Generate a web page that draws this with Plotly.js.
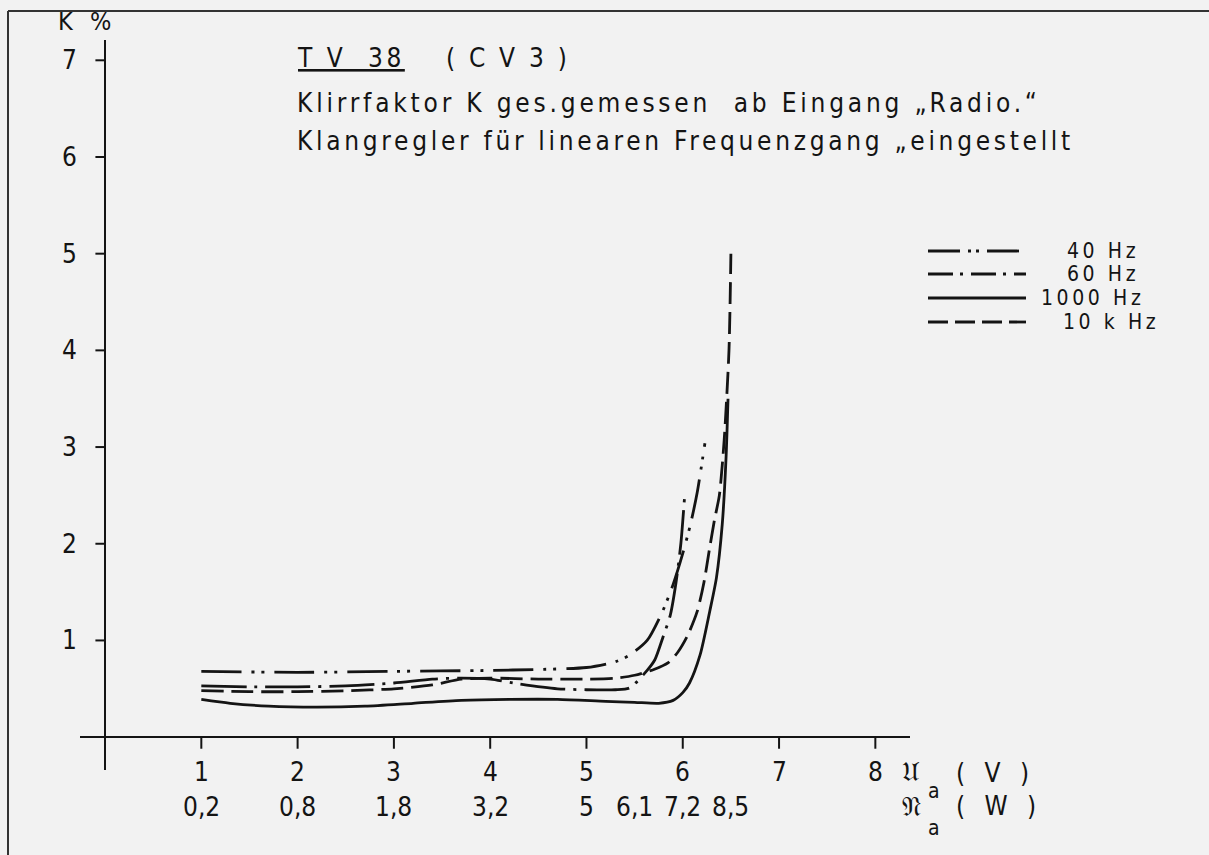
<!DOCTYPE html>
<html>
<head>
<meta charset="utf-8">
<script src="https://cdn.plot.ly/plotly-3.0.1.min.js"></script>
<style>
  html, body { margin: 0; padding: 0; background: #f2f2f2; }
  #chart { width: 1209px; height: 855px; }
</style>
</head>
<body>
<div id="chart"></div>
<script>
// ---- data ----
const xTicks = [1, 2, 3, 4, 5, 6, 7, 8];
const xTickLabels = ["1", "2", "3", "4", "5", "6", "7", "8"];
const wTickPos = [1, 2, 3, 4, 5, 5.5, 6, 6.5];
const wTickLabels = ["0,2", "0,8", "1,8", "3,2", "5", "6,1", "7,2", "8,5"];
const yTicks = [1, 2, 3, 4, 5, 6, 7];
const yTickLabels = ["1", "2", "3", "4", "5", "6", "7"];

const seriesNames = ["40 Hz", "60 Hz", "1000 Hz", "10 k Hz"];

const x40 = [1, 2, 3, 4, 4.5, 5, 5.3, 5.45, 5.63, 5.79, 5.9, 6.0, 6.08, 6.15, 6.23];
const y40 = [0.68, 0.67, 0.68, 0.69, 0.70, 0.72, 0.78, 0.85, 1.0, 1.3, 1.58, 1.9, 2.2, 2.53, 3.04];

const x60 = [1, 1.5, 2, 2.5, 3, 3.4, 3.7, 4, 4.3, 4.7, 5, 5.3, 5.45, 5.63, 5.71, 5.8, 5.87, 5.93, 5.98, 6.02];
const y60 = [0.53, 0.52, 0.52, 0.53, 0.56, 0.60, 0.61, 0.60, 0.55, 0.50, 0.49, 0.49, 0.51, 0.69, 0.8, 1.05, 1.26, 1.6, 2.0, 2.5];

const x1000 = [1, 1.3, 1.7, 2.2, 2.7, 3.2, 3.7, 4.2, 4.7, 5.2, 5.5, 5.75, 5.9, 6.0, 6.07, 6.18, 6.28, 6.35, 6.41, 6.45, 6.47];
const y1000 = [0.39, 0.35, 0.32, 0.31, 0.32, 0.35, 0.38, 0.39, 0.39, 0.37, 0.36, 0.35, 0.38, 0.46, 0.56, 0.85, 1.3, 1.65, 2.2, 2.9, 3.5];

const x10k = [1, 1.5, 2, 2.5, 3, 3.4, 3.7, 4, 4.5, 5, 5.3, 5.5, 5.7, 5.85, 5.95, 6.05, 6.15, 6.22, 6.28, 6.33, 6.38, 6.43, 6.48, 6.5];
const y10k = [0.48, 0.47, 0.47, 0.48, 0.50, 0.54, 0.60, 0.61, 0.60, 0.60, 0.61, 0.64, 0.70, 0.77, 0.88, 1.05, 1.3, 1.6, 1.96, 2.25, 2.5, 3.07, 4.0, 5.0];

// ---- styling ----
const ink = "#141414";
const bg = "#f2f2f2";
const dashes = ["40px,10px,3px,7px,3px,10px", "45px,8px,3px,8px", "solid", "22px,8px"];
const legDashes = ["32px,8px,3px,5px,3px,8px", "25px,7px,3px,8px", "solid", "20px,7px"];
const xs = [x40, x60, x1000, x10k];
const ys = [y40, y60, y1000, y10k];

const traces = seriesNames.map((n, i) => ({
  x: xs[i], y: ys[i], name: n, type: "scatter", mode: "lines",
  line: { color: ink, width: 2.8, dash: dashes[i], shape: "spline", smoothing: 0.7 },
  hoverinfo: "skip", showlegend: false
}));

// plot area in pixels: x 80..910, y 40..770
const L = 80, R = 910, T = 40, B = 770;
const px = p => (p - L) / (R - L);
const py = p => (B - p) / (B - T);

const font = "DejaVu Sans Condensed, DejaVu Sans, sans-serif";
const sp = (t, s) => '<span style="letter-spacing:' + s + 'px">' + t + '</span>';
const shapes = [];
const annotations = [];
const txt = (x, y, t, size, spacing, extra) => Object.assign({
  xref: "paper", yref: "paper", x: px(x), y: py(y), xanchor: "left", yanchor: "middle", align: "left",
  text: sp(t, spacing), showarrow: false, borderpad: 0, font: { family: font, size: size, color: ink }
}, extra || {});

// axis tick marks
xTicks.forEach(v => shapes.push({ type: "line", xref: "x", yref: "y", x0: v, x1: v, y0: 0, y1: -0.12, line: { color: ink, width: 2 } }));
yTicks.forEach(v => shapes.push({ type: "line", xref: "x", yref: "y", x0: 0, x1: -0.1, y0: v, y1: v, line: { color: ink, width: 2 } }));

// tick labels
xTicks.forEach((v, i) => annotations.push({ xref: "x", yref: "y", x: v, y: 0, yanchor: "middle", xanchor: "center", yshift: -35, text: xTickLabels[i], showarrow: false, font: { family: font, size: 26, color: ink } }));
wTickPos.forEach((v, i) => annotations.push({ xref: "x", yref: "y", x: v, y: 0, yanchor: "middle", xanchor: "center", yshift: -70, text: wTickLabels[i], showarrow: false, font: { family: font, size: 26, color: ink } }));
yTicks.forEach((v, i) => annotations.push({ xref: "x", yref: "y", x: 0, y: v, xanchor: "right", yanchor: "middle", xshift: -26, text: yTickLabels[i], showarrow: false, font: { family: font, size: 26, color: ink } }));

// axis titles
annotations.push(txt(57, 22, "K %", 25, 5));
annotations.push(txt(901, 771, "𝔘", 27, 0));
annotations.push(txt(927, 791, "a", 21, 0));
annotations.push(txt(955, 773, "( V )", 26, 6));
annotations.push(txt(901, 806, "𝔑", 27, 0));
annotations.push(txt(927, 828, "a", 21, 0));
annotations.push(txt(955, 806, "( W )", 26, 6));

// title block
annotations.push(txt(296, 58, "<u>T V  38</u>", 26, 3.5));
annotations.push(txt(445, 58, "( C V 3 )", 26, 3.2));
annotations.push(txt(296, 103, "Klirrfaktor K ges.gemessen  ab Eingang „Radio.“", 26, 3.8));
annotations.push(txt(296, 141, "Klangregler für linearen Frequenzgang „eingestellt", 26, 3.7));

// legend (manual)
const legRows = [251, 274, 298, 322];
const legTextX = [1066, 1066, 1040, 1062];
seriesNames.forEach((n, i) => {
  shapes.push({ type: "line", xref: "paper", yref: "paper", x0: px(928), x1: px(1026), y0: py(legRows[i]), y1: py(legRows[i]), line: { color: ink, width: 2.8, dash: legDashes[i] } });
  annotations.push(txt(legTextX[i], legRows[i], n, 21, 3.6));
});

// page frame (top and left edge of the scanned sheet)
shapes.push({ type: "line", xref: "paper", yref: "paper", x0: px(8), x1: px(1209), y0: py(11), y1: py(11), line: { color: "#333", width: 2 } });
shapes.push({ type: "line", xref: "paper", yref: "paper", x0: px(8), x1: px(8), y0: py(11), y1: py(855), line: { color: "#333", width: 2 } });

const layout = {
  width: 1209, height: 855,
  margin: { l: L, r: 1209 - R, t: T, b: 855 - B, pad: 0 },
  paper_bgcolor: bg, plot_bgcolor: bg,
  showlegend: false,
  xaxis: { range: [-0.26, 8.36], showgrid: false, zeroline: true, zerolinecolor: ink, zerolinewidth: 2.2, showticklabels: false, ticks: "", showline: false, fixedrange: true },
  yaxis: { range: [-0.34, 7.21], showgrid: false, zeroline: true, zerolinecolor: ink, zerolinewidth: 2.2, showticklabels: false, ticks: "", showline: false, fixedrange: true },
  shapes: shapes,
  annotations: annotations
};

Plotly.newPlot("chart", traces, layout, { staticPlot: true, displayModeBar: false });
</script>
</body>
</html>
